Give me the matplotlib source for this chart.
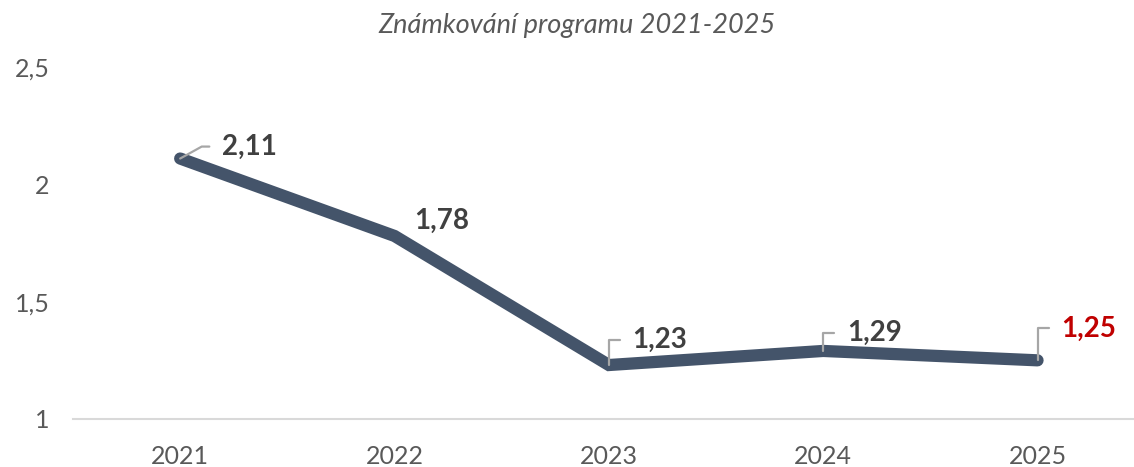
import matplotlib.pyplot as plt

plt.rcParams['font.family'] = ['Lato', 'DejaVu Sans']

years = ["2021", "2022", "2023", "2024", "2025"]
grades = [2.11, 1.78, 1.23, 1.29, 1.25]
labels = ["2,11", "1,78", "1,23", "1,29", "1,25"]
yticks = [1, 1.5, 2, 2.5]
ytick_labels = ["1", "1,5", "2", "2,5"]

# label offsets in points from the data point, leader angle (None = no leader)
offsets = [(30, 8.6), (14, 11), (17, 18), (17, 13), (17, 23)]
leader_angles = [29, None, 90, 90, 90]
label_colors = ["#404040", "#404040", "#404040", "#404040", "#C00000"]

fig = plt.figure(figsize=(11.34, 4.67), dpi=100)
ax = fig.add_axes([73 / 1134, 48 / 467, (1134 - 73) / 1134, 352 / 467])

x = list(range(len(years)))
ax.plot(x, grades, color="#44546A", linewidth=8.8, solid_capstyle="round",
        solid_joinstyle="miter", zorder=3)

for i in x:
    dx, dy = offsets[i]
    arrow = None
    if leader_angles[i] is not None:
        arrow = dict(arrowstyle="-", color="#A6A6A6", lw=1.6,
                     shrinkA=7, shrinkB=0, relpos=(0, 0.5),
                     connectionstyle="angle,angleA=0,angleB=%d,rad=0" % leader_angles[i])
    ax.annotate(labels[i], xy=(i, grades[i]), xytext=(dx, dy),
                textcoords="offset points", ha="left", va="center",
                fontsize=20, fontweight="bold", color=label_colors[i],
                arrowprops=arrow, zorder=4)

ax.set_xlim(-0.5, 4.45)
ax.set_ylim(1, 2.5)
ax.set_xticks(x)
ax.set_xticklabels(years)
ax.set_yticks(yticks)
ax.set_yticklabels(ytick_labels)
ax.tick_params(axis="both", length=0, labelsize=18, labelcolor="#595959")
ax.tick_params(axis="x", pad=19)
ax.tick_params(axis="y", pad=17)

for side in ["top", "left", "right"]:
    ax.spines[side].set_visible(False)
ax.spines["bottom"].set_color("#D9D9D9")
ax.spines["bottom"].set_linewidth(1.5)

fig.text(577 / 1134, 1 - 26 / 467, "Známkování programu 2021-2025",
         ha="center", va="center", fontsize=19.5, style="italic", color="#595959")

fig.savefig("out.png", dpi=100)
